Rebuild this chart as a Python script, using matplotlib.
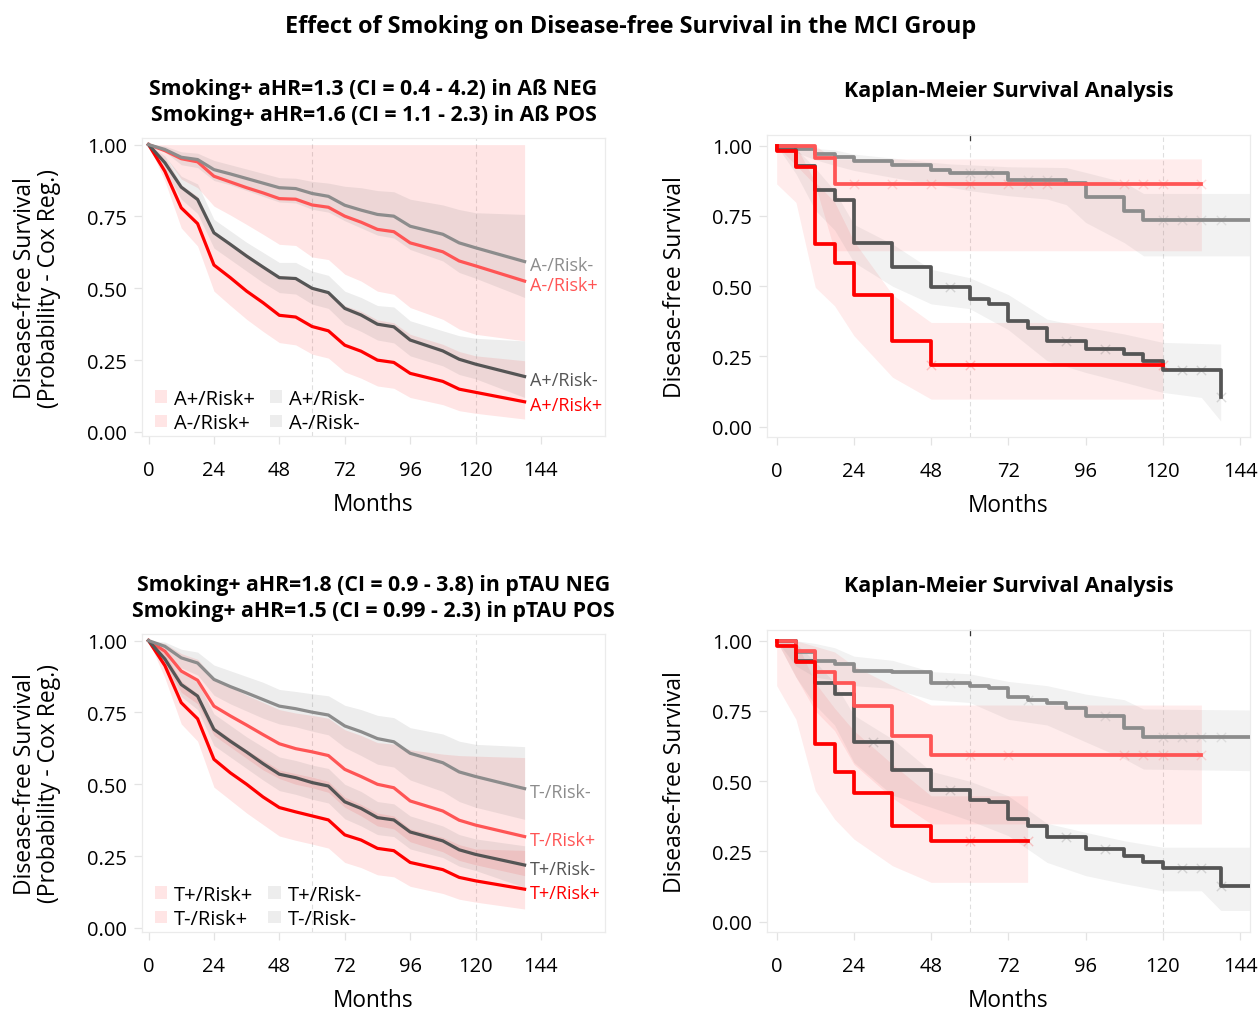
import matplotlib
matplotlib.use("Agg")
import matplotlib.pyplot as plt
from matplotlib.patches import Patch
from matplotlib.transforms import blended_transform_factory

plt.rcParams['font.family'] = ['Open Sans', 'DejaVu Sans']

RED = '#FF0000'
LRED = '#FF5555'
DGRAY = '#555555'
GRAY = '#8C8C8C'

# ---------------- Cox panels (top-left: Abeta, bottom-left: pTAU) ----------------
cox_t = [0, 6, 12, 18, 24, 30, 36, 42, 48, 54, 60, 66, 72, 78, 84, 90, 96, 108, 114, 120, 138]

# amyloid panel
ab_neg_rn = [1, 0.983, 0.956, 0.948, 0.913, 0.898, 0.882, 0.866, 0.85, 0.847, 0.83, 0.82, 0.789, 0.772, 0.757, 0.751, 0.716, 0.688, 0.658, 0.641, 0.593]
ab_neg_rp = [1, 0.979, 0.951, 0.94, 0.89, 0.87, 0.85, 0.832, 0.812, 0.81, 0.79, 0.782, 0.751, 0.73, 0.705, 0.697, 0.658, 0.627, 0.595, 0.578, 0.525]
ab_pos_rn = [1, 0.937, 0.852, 0.809, 0.693, 0.653, 0.612, 0.574, 0.537, 0.534, 0.5, 0.485, 0.43, 0.407, 0.375, 0.366, 0.32, 0.282, 0.253, 0.236, 0.193]
ab_pos_rp = [1, 0.907, 0.78, 0.725, 0.581, 0.537, 0.49, 0.45, 0.406, 0.4, 0.367, 0.352, 0.302, 0.281, 0.25, 0.242, 0.204, 0.176, 0.149, 0.138, 0.105]

ab_pos_rp_lo = [1, 0.873, 0.71, 0.647, 0.49, 0.44, 0.392, 0.35, 0.311, 0.303, 0.271, 0.257, 0.209, 0.187, 0.16, 0.152, 0.12, 0.095, 0.074, 0.065, 0.045]
ab_pos_rp_hi = [1, 0.96, 0.86, 0.82, 0.70, 0.66, 0.62, 0.58, 0.545, 0.54, 0.505, 0.49, 0.44, 0.42, 0.39, 0.38, 0.34, 0.305, 0.28, 0.265, 0.248]
ab_pos_rn_lo = [1, 0.91, 0.81, 0.76, 0.64, 0.60, 0.56, 0.52, 0.485, 0.48, 0.445, 0.43, 0.375, 0.35, 0.32, 0.31, 0.265, 0.23, 0.2, 0.185, 0.12]
ab_pos_rn_hi = [1, 0.96, 0.89, 0.863, 0.74, 0.70, 0.66, 0.625, 0.59, 0.59, 0.56, 0.545, 0.49, 0.468, 0.44, 0.435, 0.387, 0.352, 0.335, 0.326, 0.317]
ab_neg_rp_lo = [1, 0.96, 0.88, 0.85, 0.786, 0.755, 0.722, 0.688, 0.653, 0.649, 0.609, 0.6, 0.549, 0.525, 0.49, 0.479, 0.433, 0.392, 0.358, 0.34, 0.317]
ab_neg_rp_hi = [1, 1, 1, 1, 1, 1, 1, 1, 1, 1, 1, 1, 1, 1, 1, 1, 1, 1, 1, 1, 1]
ab_neg_rn_lo = [1, 0.975, 0.93, 0.92, 0.875, 0.86, 0.84, 0.82, 0.8, 0.797, 0.775, 0.765, 0.735, 0.71, 0.685, 0.675, 0.635, 0.595, 0.555, 0.535, 0.468]
ab_neg_rn_hi = [1, 0.995, 0.975, 0.97, 0.945, 0.93, 0.915, 0.9, 0.885, 0.883, 0.872, 0.866, 0.855, 0.85, 0.84, 0.836, 0.81, 0.79, 0.774, 0.763, 0.757]

# ptau panel
pt_neg_rn = [1, 0.98, 0.94, 0.922, 0.865, 0.84, 0.818, 0.795, 0.772, 0.763, 0.751, 0.741, 0.703, 0.683, 0.659, 0.648, 0.608, 0.575, 0.543, 0.527, 0.485]
pt_neg_rp = [1, 0.963, 0.894, 0.862, 0.772, 0.738, 0.706, 0.673, 0.641, 0.624, 0.613, 0.6, 0.552, 0.527, 0.5, 0.488, 0.442, 0.407, 0.375, 0.358, 0.318]
pt_pos_rn = [1, 0.936, 0.847, 0.807, 0.691, 0.65, 0.612, 0.572, 0.535, 0.523, 0.506, 0.494, 0.439, 0.416, 0.384, 0.376, 0.334, 0.303, 0.272, 0.256, 0.219]
pt_pos_rp = [1, 0.913, 0.784, 0.728, 0.587, 0.54, 0.5, 0.456, 0.419, 0.404, 0.39, 0.376, 0.324, 0.306, 0.277, 0.269, 0.228, 0.203, 0.176, 0.164, 0.135]

pt_neg_rn_lo = [1, 0.962, 0.905, 0.88, 0.81, 0.78, 0.755, 0.73, 0.71, 0.7, 0.685, 0.672, 0.628, 0.6, 0.57, 0.56, 0.515, 0.475, 0.44, 0.42, 0.378]
pt_neg_rn_hi = [1, 0.995, 0.97, 0.96, 0.915, 0.895, 0.875, 0.855, 0.83, 0.823, 0.815, 0.808, 0.775, 0.76, 0.74, 0.732, 0.697, 0.675, 0.65, 0.639, 0.631]
pt_neg_rp_lo = [1, 0.92, 0.82, 0.78, 0.67, 0.63, 0.59, 0.55, 0.52, 0.5, 0.488, 0.472, 0.42, 0.39, 0.355, 0.345, 0.3, 0.265, 0.235, 0.22, 0.182]
pt_neg_rp_hi = [1, 0.99, 0.955, 0.935, 0.87, 0.84, 0.81, 0.785, 0.76, 0.748, 0.74, 0.73, 0.69, 0.67, 0.645, 0.64, 0.62, 0.605, 0.6, 0.598, 0.593]
pt_pos_rn_lo = [1, 0.91, 0.805, 0.76, 0.635, 0.595, 0.555, 0.515, 0.478, 0.465, 0.448, 0.435, 0.38, 0.355, 0.325, 0.318, 0.275, 0.245, 0.215, 0.2, 0.141]
pt_pos_rn_hi = [1, 0.96, 0.89, 0.855, 0.745, 0.705, 0.665, 0.63, 0.595, 0.583, 0.567, 0.555, 0.5, 0.475, 0.44, 0.432, 0.39, 0.355, 0.325, 0.31, 0.286]
pt_pos_rp_lo = [1, 0.87, 0.71, 0.65, 0.49, 0.445, 0.4, 0.36, 0.32, 0.305, 0.292, 0.278, 0.228, 0.21, 0.185, 0.178, 0.145, 0.12, 0.1, 0.09, 0.066]
pt_pos_rp_hi = [1, 0.955, 0.86, 0.815, 0.7, 0.66, 0.62, 0.585, 0.55, 0.537, 0.525, 0.51, 0.455, 0.43, 0.4, 0.39, 0.345, 0.315, 0.29, 0.275, 0.27]

# ---------------- Kaplan-Meier panels ----------------
# amyloid KM
km_ab_rp_t = [0, 6, 12, 18, 24, 36, 48]
km_ab_rp_s = [0.982, 0.923, 0.65, 0.582, 0.468, 0.304, 0.22]
km_ab_rp_end = 120
km_ab_rp_cens = [48, 60, 120]
km_ab_rp_ci_t = [0, 6, 12, 18, 24, 36, 48, 120]
km_ab_rp_lo = [0.864, 0.798, 0.496, 0.43, 0.324, 0.176, 0.098, 0.098]
km_ab_rp_hi = [1, 1, 0.87, 0.80, 0.66, 0.47, 0.371, 0.371]

km_ab_lrp_t = [12, 18]
km_ab_lrp_s = [0.956, 0.864]
km_ab_lrp_end = 132
km_ab_lrp_cens = [24, 36, 48, 60, 72, 78, 84, 108, 114, 120, 132]
km_ab_lrp_ci_t = [0, 12, 18, 132]
km_ab_lrp_lo = [1, 0.86, 0.626, 0.626]
km_ab_lrp_hi = [1, 1, 0.953, 0.953]

km_ab_rn_t = [0, 6, 12, 18, 24, 36, 48, 60, 66, 72, 78, 84, 96, 108, 114, 120, 138]
km_ab_rn_s = [0.985, 0.926, 0.842, 0.808, 0.654, 0.567, 0.496, 0.454, 0.437, 0.377, 0.35, 0.306, 0.276, 0.259, 0.235, 0.203, 0.104]
km_ab_rn_end = 138
km_ab_rn_cens = [54, 90, 102, 126, 132, 138]
km_ab_rn_ci_t = [0, 6, 12, 18, 24, 36, 48, 60, 72, 84, 96, 108, 120, 132, 138]
km_ab_rn_lo = [1, 0.9, 0.77, 0.7, 0.585, 0.5, 0.437, 0.42, 0.345, 0.235, 0.193, 0.158, 0.122, 0.104, 0.02]
km_ab_rn_hi = [1, 0.99, 0.92, 0.84, 0.72, 0.65, 0.56, 0.53, 0.47, 0.383, 0.354, 0.33, 0.3, 0.296, 0.294]

km_ab_grn_t = [6, 12, 18, 24, 36, 48, 54, 72, 90, 96, 108, 114]
km_ab_grn_s = [0.988, 0.97, 0.958, 0.947, 0.932, 0.913, 0.902, 0.879, 0.866, 0.818, 0.769, 0.737]
km_ab_grn_end = 150
km_ab_grn_cens = [60, 66, 78, 84, 120, 126, 132, 138]
km_ab_grn_ci_t = [0, 6, 12, 18, 24, 36, 48, 54, 60, 72, 84, 90, 96, 108, 114, 150]
km_ab_grn_lo = [1, 0.976, 0.95, 0.93, 0.912, 0.887, 0.864, 0.852, 0.84, 0.822, 0.81, 0.79, 0.727, 0.655, 0.608, 0.608]
km_ab_grn_hi = [1, 1, 0.99, 0.985, 0.97, 0.956, 0.941, 0.935, 0.932, 0.925, 0.923, 0.922, 0.905, 0.87, 0.83, 0.83]

# ptau KM
km_pt_rp_t = [0, 6, 12, 18, 24, 36, 48]
km_pt_rp_s = [0.98, 0.925, 0.632, 0.531, 0.458, 0.342, 0.286]
km_pt_rp_end = 78
km_pt_rp_cens = [60, 78]
km_pt_rp_ci_t = [0, 6, 12, 18, 24, 36, 48, 78]
km_pt_rp_lo = [0.84, 0.72, 0.466, 0.365, 0.294, 0.199, 0.14, 0.14]
km_pt_rp_hi = [1, 1, 0.85, 0.76, 0.68, 0.56, 0.448, 0.448]

km_pt_lrp_t = [6, 12, 18, 24, 36, 48]
km_pt_lrp_s = [0.964, 0.89, 0.849, 0.766, 0.66, 0.593]
km_pt_lrp_end = 132
km_pt_lrp_cens = [60, 72, 108, 114, 120, 132]
km_pt_lrp_ci_t = [0, 6, 12, 18, 24, 36, 48, 132]
km_pt_lrp_lo = [1, 0.87, 0.75, 0.68, 0.56, 0.44, 0.348, 0.348]
km_pt_lrp_hi = [1, 1, 0.98, 0.96, 0.91, 0.84, 0.771, 0.771]

km_pt_rn_t = [6, 12, 18, 24, 36, 48, 60, 66, 72, 78, 84, 96, 108, 114, 120, 138]
km_pt_rn_s = [0.929, 0.849, 0.81, 0.638, 0.541, 0.47, 0.434, 0.425, 0.365, 0.342, 0.302, 0.259, 0.235, 0.214, 0.19, 0.126]
km_pt_rn_end = 150
km_pt_rn_cens = [30, 54, 90, 102, 126, 132, 138]
km_pt_rn_ci_t = [0, 6, 12, 18, 24, 36, 48, 60, 72, 84, 96, 108, 120, 132, 138, 150]
km_pt_rn_lo = [1, 0.87, 0.77, 0.7, 0.567, 0.45, 0.407, 0.36, 0.306, 0.211, 0.164, 0.135, 0.11, 0.11, 0.04, 0.04]
km_pt_rn_hi = [1, 0.99, 0.925, 0.85, 0.735, 0.65, 0.535, 0.5, 0.448, 0.35, 0.318, 0.288, 0.265, 0.265, 0.265, 0.265]

km_pt_grn_t = [6, 12, 18, 24, 36, 48, 60, 66, 72, 78, 84, 90, 96, 108, 114]
km_pt_grn_s = [0.958, 0.929, 0.917, 0.893, 0.887, 0.849, 0.84, 0.83, 0.798, 0.789, 0.778, 0.762, 0.731, 0.688, 0.658]
km_pt_grn_end = 150
km_pt_grn_cens = [54, 78, 102, 120, 126, 132, 138]
km_pt_grn_ci_t = [0, 6, 12, 18, 24, 36, 48, 60, 72, 84, 96, 108, 114, 150]
km_pt_grn_lo = [1, 0.91, 0.87, 0.86, 0.84, 0.83, 0.79, 0.78, 0.72, 0.7, 0.64, 0.58, 0.543, 0.537]
km_pt_grn_hi = [1, 1, 0.99, 0.975, 0.945, 0.93, 0.89, 0.882, 0.855, 0.84, 0.81, 0.79, 0.757, 0.753]

x_ticks = [0, 24, 48, 72, 96, 120, 144]
y_ticks = [0.0, 0.25, 0.5, 0.75, 1.0]
y_ticklabels = ['0.00', '0.25', '0.50', '0.75', '1.00']

W, H = 1258, 1012
fig = plt.figure(figsize=(W / 100, H / 100), dpi=100)


def make_ax(l, r, t, b):
    return fig.add_axes([l / W, 1 - b / H, (r - l) / W, (b - t) / H])


def style(ax, xlim, ylim):
    ax.set_xlim(*xlim)
    ax.set_ylim(*ylim)
    for s in ax.spines.values():
        s.set_color('#EBEBEB')
        s.set_linewidth(0.9)
    ax.set_xticks(x_ticks)
    ax.set_yticks(y_ticks)
    ax.set_yticklabels(y_ticklabels)
    ax.tick_params(axis='both', colors='#E3E3E3', labelcolor='black', labelsize=14.5, length=6, width=0.9)
    ax.tick_params(axis='x', pad=11)
    ax.tick_params(axis='y', pad=5)
    for v in (60, 120):
        ax.axvline(v, color='#DEDEDE', lw=0.8, ls=(0, (4, 3)), zorder=0.5)


def cox_panel(ax, curves, labels, title, leg_names):
    style(ax, (-2.4, 167.5), (-0.014, 1.023))
    # bands first, lines on top
    for y, lo, hi, col, band in curves:
        if band == 'red':
            ax.fill_between(cox_t, lo, hi, color=RED, alpha=0.1, lw=0)
        else:
            ax.fill_between(cox_t, lo, hi, color='#808080', alpha=0.14, lw=0)
    for (y, lo, hi, col, band), lab in zip(curves, labels):
        ax.plot(cox_t, y, color=col, lw=2.3, solid_joinstyle='round')
        ax.annotate(lab, (cox_t[-1], y[-1]), xytext=(4, -2.5), textcoords='offset points',
                    color=col, fontsize=13, va='center', ha='left')
    pink = (1, 0, 0, 0.1)
    grey = (0.5, 0.5, 0.5, 0.14)
    handles = [Patch(facecolor=pink, edgecolor='none'), Patch(facecolor=pink, edgecolor='none'),
               Patch(facecolor=grey, edgecolor='none'), Patch(facecolor=grey, edgecolor='none')]
    ax.legend(handles, leg_names, ncol=2, loc='lower left', bbox_to_anchor=(0.028, 0.01), frameon=False,
              fontsize=14.5, handlelength=0.6, handleheight=0.6, handletextpad=0.35,
              columnspacing=0.75, labelspacing=0.2, borderaxespad=0, borderpad=0)
    ax.text(0.5, 1.122, title, transform=ax.transAxes, ha='center', va='center',
            fontsize=15.3, fontweight='bold', linespacing=1.3)
    ax.text(0.5, -0.228, 'Months', transform=ax.transAxes, ha='center', va='center', fontsize=16.3)
    ax.text(-0.227, 0.5, 'Disease-free Survival\n(Probability - Cox Reg.)', transform=ax.transAxes,
            ha='center', va='center', rotation=90, fontsize=16.5, linespacing=1.0)


def km_line(ax, t, s, end, cens, col):
    xs = [0] + list(t) + [end]
    ys = [1.0] + list(s) + [s[-1]]
    ax.step(xs, ys, where='post', color=col, lw=2.7, zorder=3)
    cy = []
    for c in cens:
        v = 1.0
        for ti, si in zip(t, s):
            if ti <= c:
                v = si
        cy.append(v)
    ax.scatter(cens, cy, marker='x', s=45, color=col, alpha=0.2, lw=1.0, zorder=3.5)


def km_panel(ax, lines, bands):
    style(ax, (-3.0, 147.1), (-0.0367, 1.038))
    for bt, lo, hi, kind in bands:
        if kind == 'red':
            ax.fill_between(bt, lo, hi, color=RED, alpha=0.075, lw=0)
        else:
            ax.fill_between(bt, lo, hi, color='#808080', alpha=0.1, lw=0)
    for t, s, end, cens, col in lines:
        km_line(ax, t, s, end, cens, col)
    tr = blended_transform_factory(ax.transData, ax.transAxes)
    ax.plot([60, 60], [0.985, 1.0], color='#333333', lw=0.9, transform=tr, clip_on=False)
    ax.text(0.5, 1.148, 'Kaplan-Meier Survival Analysis', transform=ax.transAxes, ha='center',
            va='center', fontsize=15.5, fontweight='bold')
    ax.text(0.5, -0.224, 'Months', transform=ax.transAxes, ha='center', va='center', fontsize=16.3)
    ax.text(-0.19, 0.5, 'Disease-free Survival', transform=ax.transAxes, ha='center', va='center',
            rotation=90, fontsize=16.5)


ax1 = make_ax(142, 605, 139, 437)
cox_panel(ax1,
          [(ab_pos_rp, ab_pos_rp_lo, ab_pos_rp_hi, RED, 'red'),
           (ab_neg_rp, ab_neg_rp_lo, ab_neg_rp_hi, LRED, 'red'),
           (ab_pos_rn, ab_pos_rn_lo, ab_pos_rn_hi, DGRAY, 'grey'),
           (ab_neg_rn, ab_neg_rn_lo, ab_neg_rn_hi, GRAY, 'grey')],
          ['A+/Risk+', 'A-/Risk+', 'A+/Risk-', 'A-/Risk-'],
          'Smoking+ aHR=1.3 (CI = 0.4 - 4.2) in Aß NEG\nSmoking+ aHR=1.6 (CI = 1.1 - 2.3) in Aß POS',
          ['A+/Risk+', 'A-/Risk+', 'A+/Risk-', 'A-/Risk-'])

ax3 = make_ax(142, 605, 635, 933)
cox_panel(ax3,
          [(pt_pos_rp, pt_pos_rp_lo, pt_pos_rp_hi, RED, 'red'),
           (pt_neg_rp, pt_neg_rp_lo, pt_neg_rp_hi, LRED, 'red'),
           (pt_pos_rn, pt_pos_rn_lo, pt_pos_rn_hi, DGRAY, 'grey'),
           (pt_neg_rn, pt_neg_rn_lo, pt_neg_rn_hi, GRAY, 'grey')],
          ['T+/Risk+', 'T-/Risk+', 'T+/Risk-', 'T-/Risk-'],
          'Smoking+ aHR=1.8 (CI = 0.9 - 3.8) in pTAU NEG\nSmoking+ aHR=1.5 (CI = 0.99 - 2.3) in pTAU POS',
          ['T+/Risk+', 'T-/Risk+', 'T+/Risk-', 'T-/Risk-'])

ax2 = make_ax(767, 1250, 136, 438)
km_panel(ax2,
         [(km_ab_grn_t, km_ab_grn_s, km_ab_grn_end, km_ab_grn_cens, GRAY),
          (km_ab_rn_t, km_ab_rn_s, km_ab_rn_end, km_ab_rn_cens, DGRAY),
          (km_ab_lrp_t, km_ab_lrp_s, km_ab_lrp_end, km_ab_lrp_cens, LRED),
          (km_ab_rp_t, km_ab_rp_s, km_ab_rp_end, km_ab_rp_cens, RED)],
         [(km_ab_rp_ci_t, km_ab_rp_lo, km_ab_rp_hi, 'red'),
          (km_ab_lrp_ci_t, km_ab_lrp_lo, km_ab_lrp_hi, 'red'),
          (km_ab_rn_ci_t, km_ab_rn_lo, km_ab_rn_hi, 'grey'),
          (km_ab_grn_ci_t, km_ab_grn_lo, km_ab_grn_hi, 'grey')])

ax4 = make_ax(767, 1250, 631, 933)
km_panel(ax4,
         [(km_pt_grn_t, km_pt_grn_s, km_pt_grn_end, km_pt_grn_cens, GRAY),
          (km_pt_rn_t, km_pt_rn_s, km_pt_rn_end, km_pt_rn_cens, DGRAY),
          (km_pt_lrp_t, km_pt_lrp_s, km_pt_lrp_end, km_pt_lrp_cens, LRED),
          (km_pt_rp_t, km_pt_rp_s, km_pt_rp_end, km_pt_rp_cens, RED)],
         [(km_pt_rp_ci_t, km_pt_rp_lo, km_pt_rp_hi, 'red'),
          (km_pt_lrp_ci_t, km_pt_lrp_lo, km_pt_lrp_hi, 'red'),
          (km_pt_rn_ci_t, km_pt_rn_lo, km_pt_rn_hi, 'grey'),
          (km_pt_grn_ci_t, km_pt_grn_lo, km_pt_grn_hi, 'grey')])

fig.text(631 / W, 1 - 27 / H, 'Effect of Smoking on Disease-free Survival in the MCI Group',
         ha='center', va='center', fontsize=16.8, fontweight='bold')

fig.savefig('out.png', dpi=100)
